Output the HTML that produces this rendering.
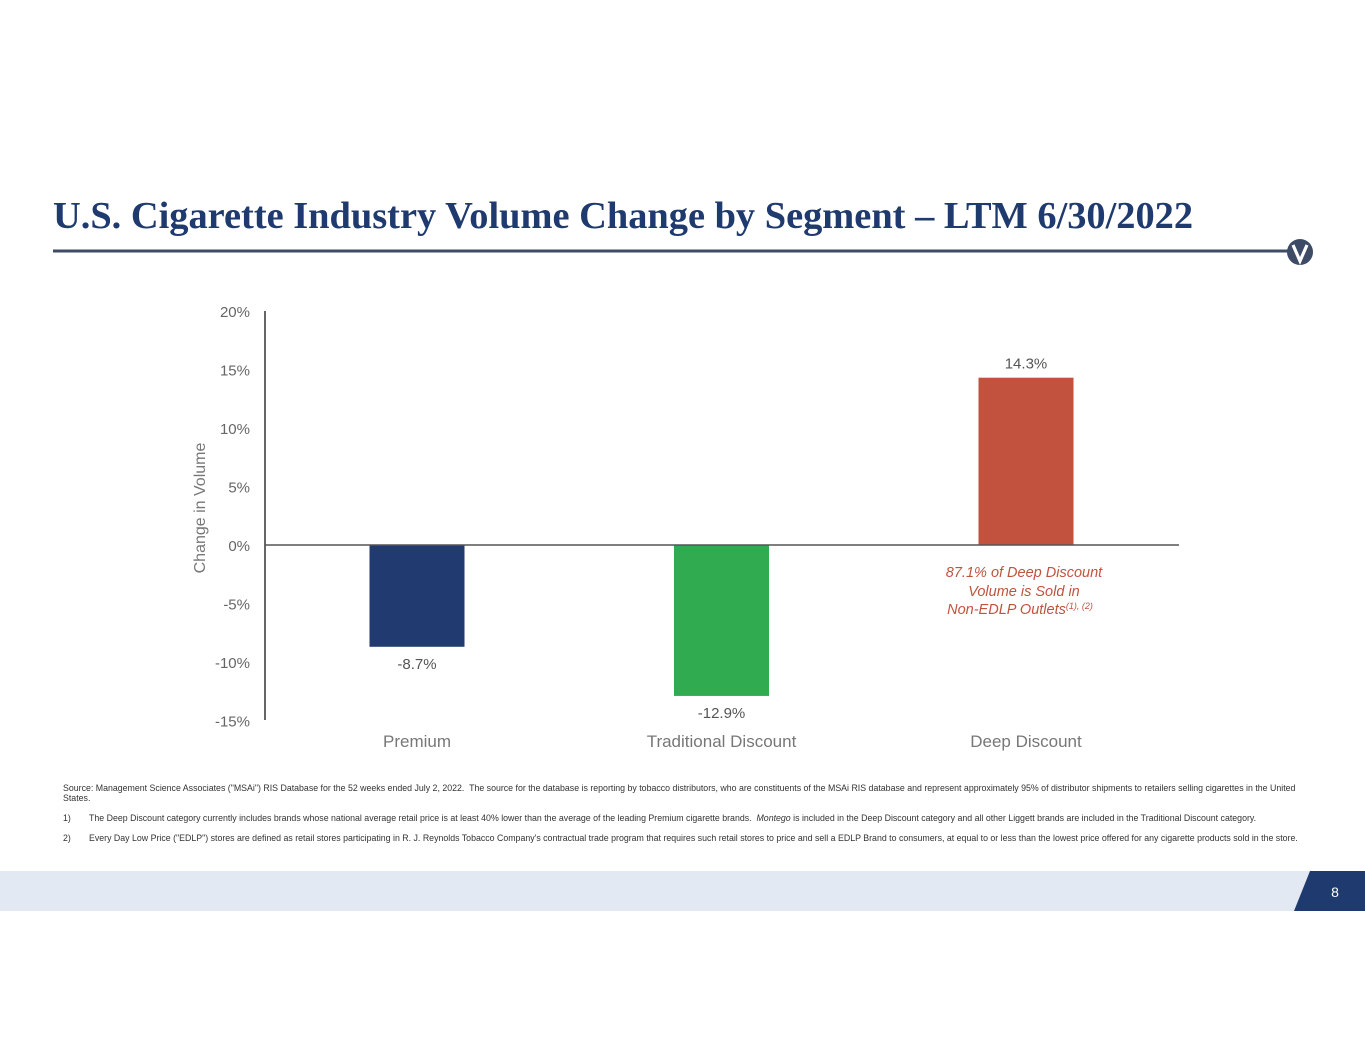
<!DOCTYPE html>
<html><head><meta charset="utf-8"><style>
body{margin:0;width:1365px;height:1055px;background:#fff;position:relative;overflow:hidden;font-family:"Liberation Sans",sans-serif}
.t{position:absolute;left:53px;top:194px;font-family:"Liberation Serif",serif;font-weight:bold;font-size:38.4px;color:#1f3a6e;white-space:nowrap}
.fn{position:absolute;left:63px;font-size:8.8px;color:#333;white-space:nowrap}
</style></head><body>
<div class="t">U.S. Cigarette Industry Volume Change by Segment – LTM 6/30/2022</div>
<svg width="1365" height="1055" style="position:absolute;left:0;top:0" id="chart">
<line x1="53" y1="251" x2="1292" y2="251" stroke="#3d4b66" stroke-width="3"/>
<g><circle cx="1300" cy="252" r="13" fill="#3d4b66"/><path d="M1293 245 L1300 261 L1307 245" stroke="#fff" stroke-width="3.2" fill="none"/></g>
<rect x="0" y="871" width="1365" height="40" fill="#e3e9f2"/>
<polygon points="1310,871 1365,871 1365,911 1294,911" fill="#1f3a6e"/>
<text x="1335" y="897" font-size="14" fill="#fff" text-anchor="middle" font-family="Liberation Sans">8</text>
<g id="plot"></g>
<text transform="translate(205,508) rotate(-90)" text-anchor="middle" font-size="16" fill="#777">Change in Volume</text>
<text text-anchor="middle" font-size="14.5" font-style="italic" fill="#c0533f">
<tspan x="1026" y="577">87.1% of Deep Discount</tspan>
<tspan x="1026" y="596">Volume is Sold in</tspan>
<tspan x="1020" y="614">Non-EDLP Outlets</tspan><tspan font-size="9" dy="-5">(1), (2)</tspan></text>
</svg>
<div class="fn" style="top:783px">Source: Management Science Associates ("MSAi") RIS Database for the 52 weeks ended July 2, 2022.&nbsp; The source for the database is reporting by tobacco distributors, who are constituents of the MSAi RIS database and represent approximately 95% of distributor shipments to retailers selling cigarettes in the United<br>States.</div>
<div class="fn" style="top:813px">1)<span style="position:absolute;left:26px">The Deep Discount category currently includes brands whose national average retail price is at least 40% lower than the average of the leading Premium cigarette brands.&nbsp; <i>Montego</i> is included in the Deep Discount category and all other Liggett brands are included in the Traditional Discount category.</span></div>
<div class="fn" style="top:833px">2)<span style="position:absolute;left:26px">Every Day Low Price ("EDLP") stores are defined as retail stores participating in R. J. Reynolds Tobacco Company's contractual trade program that requires such retail stores to price and sell a EDLP Brand to consumers, at equal to or less than the lowest price offered for any cigarette products sold in the store.</span></div>
<script>
const categories=["Premium","Traditional Discount","Deep Discount"];
const values=[-8.7,-12.9,14.3];
const labels=["-8.7%","-12.9%","14.3%"];
const colors=["#213a70","#30ab4f","#c2513e"];
const ticks=[20,15,10,5,0,-5,-10,-15];
const tickLabels=["20%","15%","10%","5%","0%","-5%","-10%","-15%"];
const NS="http://www.w3.org/2000/svg";
const g=document.getElementById("plot");
const y=v=>545-v*11.7;
const cx=i=>417+i*304.5;
function mk(t,a){const e=document.createElementNS(NS,t);for(const k in a)e.setAttribute(k,a[k]);g.appendChild(e);return e;}
ticks.forEach((t,i)=>{const e=mk("text",{x:250,y:y(t)+6,"text-anchor":"end","font-size":"15",fill:"#666"});e.textContent=tickLabels[i];

});
values.forEach((v,i)=>{const top=Math.min(y(v),y(0)),h=Math.abs(y(v)-y(0));
const r=mk("rect",{x:cx(i)-47.5,y:top,width:95,height:h,fill:colors[i]});


const ly=v>=0?y(v)-9:y(v)+22;
const l=mk("text",{x:cx(i),y:ly,"text-anchor":"middle","font-size":"15",fill:"#555"});l.textContent=labels[i];


const c=mk("text",{x:cx(i),y:747,"text-anchor":"middle","font-size":"17",fill:"#777"});c.textContent=categories[i];

});
const ax=mk("line",{x1:265,y1:311,x2:265,y2:720,stroke:"#666","stroke-width":2});


const zl=mk("line",{x1:265,y1:y(0),x2:1179,y2:y(0),stroke:"#555","stroke-width":1.5});


</script>
</body></html>
